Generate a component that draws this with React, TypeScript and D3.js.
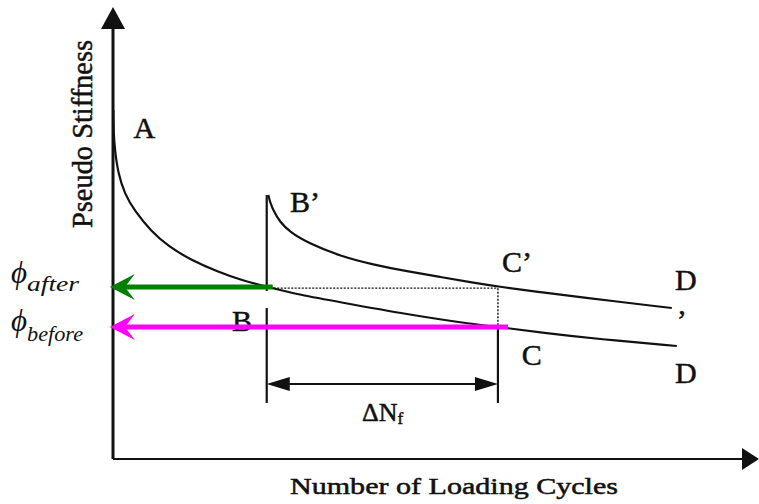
import React from "react";
import * as d3 from "d3";

// Canvas
const W = 759;
const H = 504;

// Abstract units: cycles 0..100 on x, pseudo stiffness 0..100 on y
const cycleDomain: [number, number] = [0, 100];
const stiffDomain: [number, number] = [0, 100];

// Original loading curve A -> B -> C -> D  [cycles, stiffness]
const curveOriginal: [number, number][] = [
  [0.05, 77.2], [0.1, 72.0], [0.3, 68.4], [0.79, 63.3], [1.86, 58.6], [3.44, 54.9],
  [6.03, 50.4], [8.73, 47.1], [12.4, 44.0], [16.7, 41.4], [20.3, 39.6],
  [24.4, 38.1], [29.7, 36.3], [36.0, 34.7], [46.7, 32.0], [57.1, 29.8],
  [62.5, 29.0], [67.8, 28.0], [77.3, 26.5], [89.5, 25.0],
];

// Curve after the rest period B' -> C' -> D'
const curveAfterRest: [number, number][] = [
  [24.65, 58.4], [24.9, 57.0], [25.4, 55.1], [26.5, 52.4], [28.1, 50.2], [30.8, 47.9],
  [36.0, 44.9], [41.3, 43.0], [46.7, 41.5], [51.9, 40.3], [57.1, 39.0],
  [61.4, 38.1], [67.8, 36.9], [74.1, 35.8], [88.7, 33.4],
];

// Key cycle counts / stiffness levels
const restCycle = 24.4;         // B / B'
const recoveredCycle = 61.1;    // C' after rest
const beforeEndCycle = 62.7;    // C on the original curve
const phiAfter = 38.05;
const phiBefore = 29.2;
const restTop = 58.4;
const gapTop = 37.2;
const gapBottom = 33.4;
const dimLevel = 16.6;
const dimBottom = 12.4;
const dottedLevel = 37.8;

// Point labels [text, cycles, stiffness]
const pointLabels: [string, number, number][] = [
  ["A", 3.25, 71.0],
  ["B\u2019", 28.1, 54.6],
  ["C\u2019", 61.75, 41.4],
  ["D", 89.2, 37.4],
  ["\u2019", 89.5, 28.5],
  ["C", 64.9, 20.8],
  ["D", 89.2, 16.8],
];

const xLabel = "Number of Loading Cycles";
const yLabel = "Pseudo Stiffness";

const INK = "#111";
const SERIF = "'Liberation Serif', 'DejaVu Serif', 'Times New Roman', serif";

export default function App() {
  const x = d3.scaleLinear().domain(cycleDomain).range([113, 743]);
  const y = d3.scaleLinear().domain(stiffDomain).range([459, 7]);

  const line = d3
    .line<[number, number]>()
    .x((d) => x(d[0]))
    .y((d) => y(d[1]))
    .curve(d3.curveBasis);

  const x0 = x(0);
  const y0 = y(0);

  // Barbed arrow head pointing left, tip at (tx, ty)
  const barb = (tx: number, ty: number) =>
    `M${tx},${ty} L${tx + 25},${ty - 13} L${tx + 15},${ty} L${tx + 25},${ty + 13} Z`;

  const dimL = x(restCycle);
  const dimR = x(recoveredCycle);
  const dimY = y(dimLevel);

  // printed-ink look: a thin outline thickens the serif glyphs
  const txt = {
    fontFamily: SERIF,
    fill: INK,
    stroke: INK,
    strokeWidth: 0.5,
  } as React.CSSProperties;
  const mathTxt = { fontFamily: SERIF, fill: INK } as React.CSSProperties;

  return (
    <svg
      width={W}
      height={H}
      style={{ position: "fixed", left: 0, top: 0, background: "#fff", fontFamily: SERIF }}
    >
      {/* axes */}
      <line x1={x0} y1={y0} x2={x0} y2={25} stroke={INK} strokeWidth={3} />
      <path d={`M${x0},7 L${x0 - 12},29 L${x0 + 12},29 Z`} fill={INK} />
      <line x1={x0} y1={y0} x2={745} y2={y0} stroke={INK} strokeWidth={2} />
      <path d={`M759,${y0} L742,${y0 - 11} L742,${y0 + 11} Z`} fill={INK} />

      {/* axis titles */}
      <text
        transform={`translate(92,134) rotate(-90)`}
        textAnchor="middle"
        fontSize={29}
        textLength={188}
        lengthAdjust="spacingAndGlyphs"
        style={txt}
      >
        {yLabel}
      </text>
      <text
        x={290}
        y={494}
        fontSize={23}
        textLength={328}
        lengthAdjust="spacingAndGlyphs"
        style={txt}
      >
        {xLabel}
      </text>

      {/* curves */}
      <path d={line(curveOriginal) ?? ""} fill="none" stroke={INK} strokeWidth={2.2} />
      <path d={line(curveAfterRest) ?? ""} fill="none" stroke={INK} strokeWidth={2.2} />

      {/* rest marker lines */}
      <line x1={dimL} y1={y(restTop)} x2={dimL} y2={y(gapTop)} stroke={INK} strokeWidth={2.2} />
      <line x1={dimL} y1={y(gapBottom)} x2={dimL} y2={y(dimBottom)} stroke={INK} strokeWidth={2.2} />
      <line
        x1={dimR}
        y1={y(dottedLevel)}
        x2={dimR}
        y2={y(phiBefore)}
        stroke={INK}
        strokeWidth={1.4}
        strokeDasharray="2,1.5"
      />
      <line x1={dimR} y1={y(phiBefore)} x2={dimR} y2={y(dimBottom)} stroke={INK} strokeWidth={2.2} />
      <line
        x1={dimL}
        y1={y(dottedLevel)}
        x2={dimR}
        y2={y(dottedLevel)}
        stroke={INK}
        strokeWidth={1.4}
        strokeDasharray="2,1.5"
      />

      {/* ΔNf dimension */}
      <line x1={dimL + 20} y1={dimY} x2={dimR - 20} y2={dimY} stroke={INK} strokeWidth={2} />
      <path d={`M${dimL},${dimY} L${dimL + 23},${dimY - 7} L${dimL + 23},${dimY + 7} Z`} fill={INK} />
      <path d={`M${dimR},${dimY} L${dimR - 23},${dimY - 7} L${dimR - 23},${dimY + 7} Z`} fill={INK} />
      <text x={362} y={421} fontSize={26} style={txt}>
        ΔN
        <tspan fontSize={17} dy={3}>f</tspan>
      </text>

      {/* point labels */}
      {pointLabels.map(([t, cx, sy], i) => (
        <text key={i} x={x(cx)} y={y(sy)} fontSize={30} style={txt}>
          {t}
        </text>
      ))}
      <text x={232} y={331} fontSize={30} style={txt}>
        B
      </text>

      {/* stiffness levels */}
      <line x1={x(restCycle) + 6} y1={y(phiAfter)} x2={x(-0.5) + 15} y2={y(phiAfter)} stroke="#008000" strokeWidth={5} />
      <path d={barb(x(-0.5), y(phiAfter))} fill="#008000" />
      <line x1={x(beforeEndCycle)} y1={y(phiBefore)} x2={x(-0.5) + 15} y2={y(phiBefore)} stroke="#ff00ff" strokeWidth={5} />
      <path d={barb(x(-0.5), y(phiBefore))} fill="#ff00ff" />

      <text x={11} y={283} fontSize={31} fontStyle="italic" style={mathTxt}>
        {"\u03D5"}
        <tspan fontSize={22} dy={8} textLength={52} lengthAdjust="spacingAndGlyphs">after</tspan>
      </text>
      <text x={11} y={331} fontSize={31} fontStyle="italic" style={mathTxt}>
        {"\u03D5"}
        <tspan fontSize={22} dy={10} textLength={56} lengthAdjust="spacingAndGlyphs">before</tspan>
      </text>
    </svg>
  );
}
